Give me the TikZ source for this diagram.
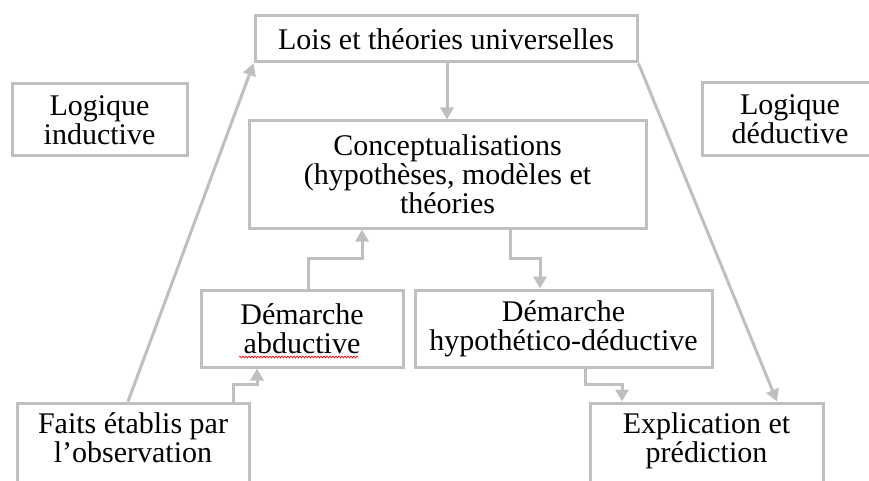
\documentclass[tikz,border=0pt]{standalone}
\usepackage{fontspec}
\setmainfont{Liberation Serif}
\usetikzlibrary{arrows.meta, decorations.pathmorphing}
\definecolor{boxgray}{RGB}{191,191,191}

\begin{document}
\begin{tikzpicture}[x=1pt,y=1pt]
\tikzstyle{every node}+=[inner sep=0pt]
\tikzstyle{box}=[draw=boxgray, line width=3pt, align=center, font=\fontsize{30}{29}\selectfont]
\tikzstyle{link}=[draw=boxgray, line width=3pt, -{Triangle[width=13pt,length=12pt]}]
\useasboundingbox (0,0) rectangle (869,-481);
\draw (446,-39) node [box, minimum width=382pt, minimum height=46pt] (lois) {Lois et théories universelles};
\draw (99.5,-120) node [box, minimum width=175pt, minimum height=72pt] (ind) {Logique\\inductive};
\draw (790,-119.5) node [box, minimum width=176pt, minimum height=73pt] (ded) {Logique\\déductive};
\draw (447.5,-174.5) node [box, minimum width=397pt, minimum height=107pt] (concept) {Conceptualisations\\(hypothèses, modèles et\\théories};
\draw (302,-328.5) node [box, minimum width=202pt, minimum height=77pt] (abd) {Démarche\\abductive};
\draw (563.5,-328.5) node [box, minimum width=297pt, minimum height=77pt] (hypo) {Démarche\\hypothético-déductive};
\draw (133,-462) node [box, anchor=base, minimum width=232pt, text height=59pt, text depth=40pt] (faits) {Faits établis par\\l’observation};
\draw (706.5,-462) node [box, anchor=base, minimum width=233pt, text height=59pt, text depth=40pt] (expl) {Explication et\\prédiction};
\draw [red, line width=0.6pt, decorate, decoration={snake, amplitude=1pt, segment length=3pt}] (239,-357) -- (358,-357);
\draw [link] (lois.south -| 447,0) -- (concept.north -| 447,0);
\draw [link] (abd.north -| 308,0) -- (308,-258) -| (concept.south -| 362,0);
\draw [link] (concept.south -| 510,0) -- (510,-258) -| (hypo.north -| 540,0);
\draw [link] (faits.north -| 233,0) -- (233,-384) -| (abd.south -| 257,0);
\draw [link] (hypo.south -| 585,0) -- (585,-384) -| (expl.north -| 622,0);
\draw [link] (faits.north -| 128,0) -- (lois.south west);
\draw [link] (lois.south east) -- (expl.north -| 777,0);
\end{tikzpicture}
\end{document}
